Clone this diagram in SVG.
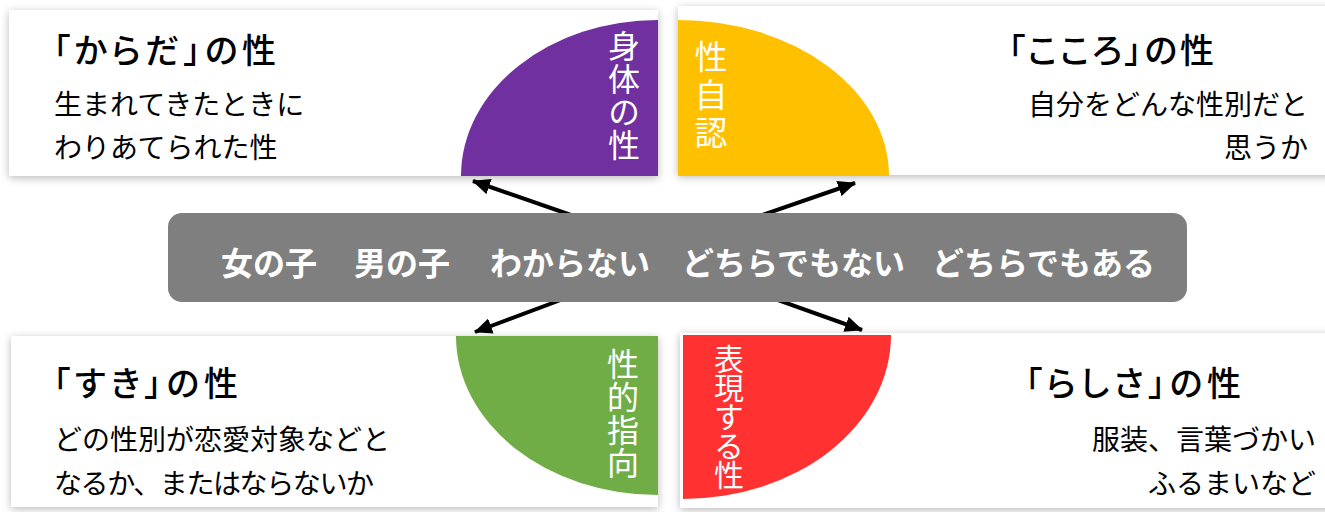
<svg xmlns="http://www.w3.org/2000/svg" width="1325" height="512" viewBox="0 0 1325 512">
<defs>
<filter id="sh" x="-5%" y="-10%" width="110%" height="125%">
<feDropShadow dx="0" dy="2" stdDeviation="4" flood-color="#000" flood-opacity="0.28"/>
</filter>
<marker id="ah" markerUnits="userSpaceOnUse" markerWidth="20" markerHeight="16" refX="17" refY="8" orient="auto">
<path d="M0,0 L18,8 L0,16 Z" fill="#000"/>
</marker>
<style>
text{font-family:"Noto Sans CJK JP","Noto Sans CJK SC",sans-serif;}
.card{fill:#fff;filter:url(#sh);}
.title{font-size:34px;fill:#000;font-weight:500;font-feature-settings:"palt";}
.body{font-size:28px;fill:#000;}
.vt{font-size:32px;fill:#fff;writing-mode:vertical-rl;text-anchor:start;}
.conn{stroke:#000;stroke-width:4;fill:none;marker-end:url(#ah);}
.banner-text{font-size:32px;font-weight:bold;fill:#fff;}
</style>
</defs>
<rect width="1325" height="512" fill="#fff"/>

<g id="node-karada">
<rect class="card" x="9" y="10" width="649" height="166"/>
<path d="M658,20 A197,156 0 0 0 461,176 L658,176 Z" fill="#7030A0"/>
<text class="title" x="53" y="63" textLength="223">「からだ」の性</text>
<text class="body" x="54" y="115">生まれてきたときに</text>
<text class="body" x="54" y="158">わりあてられた性</text>
<text class="vt" x="624" y="30" style="letter-spacing:1px">身体の性</text>
</g>

<g id="node-kokoro">
<rect class="card" x="678" y="6" width="660" height="169"/>
<path d="M678,20 A211,156 0 0 1 889,176 L678,176 Z" fill="#FFC000"/>
<text class="title" x="1008" y="63" textLength="206">「こころ」の性</text>
<text class="body" x="1308" y="115" text-anchor="end">自分をどんな性別だと</text>
<text class="body" x="1308" y="158" text-anchor="end">思うか</text>
<text class="vt" x="711" y="40" style="font-size:33px;letter-spacing:5px">性自認</text>
</g>

<g id="node-suki">
<rect class="card" x="11" y="336" width="647" height="171"/>
<path d="M456,336 A202,159 0 0 0 658,495 L658,336 Z" fill="#70AD47"/>
<text class="title" x="53" y="396" textLength="185">「すき」の性</text>
<text class="body" x="54" y="450">どの性別が恋愛対象などと</text>
<text class="body" x="54" y="494" textLength="320">なるか、またはならないか</text>
<text class="vt" x="623" y="348" style="letter-spacing:1px">性的指向</text>
</g>

<g id="node-rashisa">
<rect class="card" x="680" y="333" width="660" height="175"/>
<path d="M891,335 A208,164 0 0 1 683,499 L683,335 Z" fill="#FF3131"/>
<text class="title" x="1025" y="396" textLength="216">「らしさ」の性</text>
<text class="body" x="1316" y="450" text-anchor="end">服装、言葉づかい</text>
<text class="body" x="1316" y="494" text-anchor="end">ふるまいなど</text>
<text class="vt" x="729" y="344" style="font-size:30px;letter-spacing:-1px">表現する性</text>
</g>

<g id="connectors">
<line class="conn" x1="594" y1="223" x2="473" y2="181"/>
<line class="conn" x1="739" y1="223" x2="855" y2="183"/>
<line class="conn" x1="582" y1="292" x2="475" y2="332"/>
<line class="conn" x1="755" y1="292" x2="862" y2="330"/>
</g>

<g id="node-banner">
<rect x="168" y="213" width="1019" height="89" rx="14" fill="#7F7F7F"/>
<text class="banner-text" y="275"><tspan x="221">女の子</tspan><tspan x="354">男の子</tspan><tspan x="490">わからない</tspan><tspan x="682">どちらでもない</tspan><tspan x="932">どちらでもある</tspan></text>
</g>
</svg>
